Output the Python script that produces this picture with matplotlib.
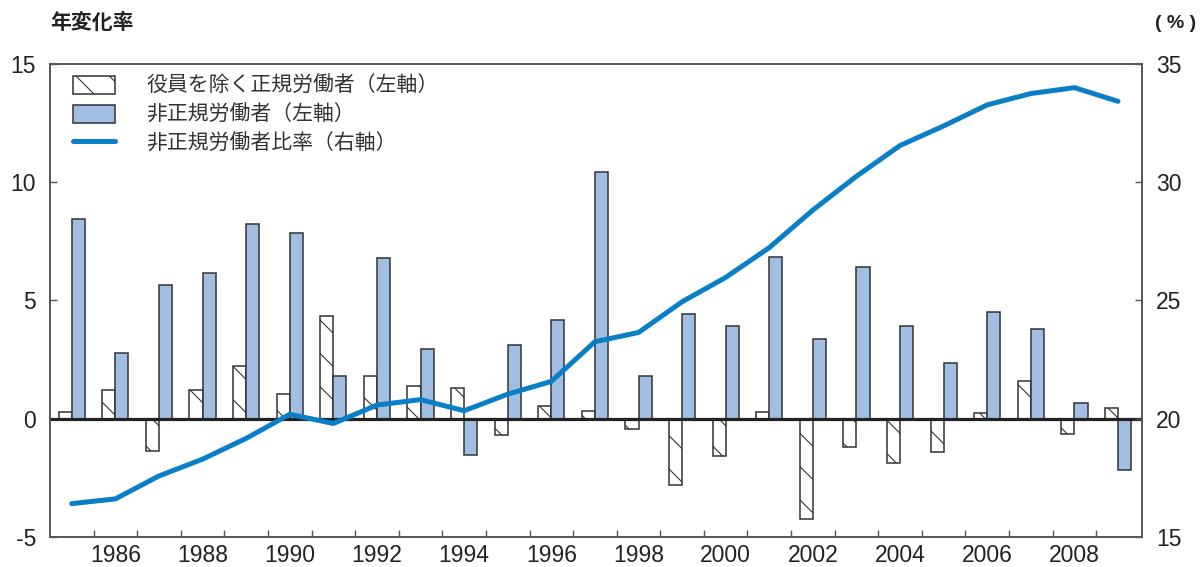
import numpy as np
import matplotlib
matplotlib.use('Agg')
import matplotlib.pyplot as plt

plt.rcParams['font.family'] = ['Liberation Sans', 'Noto Sans CJK JP', 'DejaVu Sans']
plt.rcParams['hatch.linewidth'] = 0.8
plt.rcParams['axes.unicode_minus'] = False

# 年
years = list(range(1985, 2010))
# 役員を除く正規労働者 年変化率（左軸）
regular = [0.29, 1.21, -1.37, 1.21, 2.21, 1.04, 4.34, 1.81, 1.36, 1.30,
           -0.70, 0.54, 0.33, -0.46, -2.80, -1.57, 0.29, -4.25, -1.19, -1.87,
           -1.42, 0.22, 1.60, -0.66, 0.46]
# 非正規労働者 年変化率（左軸）
nonregular = [8.43, 2.77, 5.66, 6.17, 8.21, 7.85, 1.81, 6.81, 2.93, -1.53,
              3.10, 4.18, 10.44, 1.81, 4.42, 3.91, 6.83, 3.38, 6.41, 3.93,
              2.33, 4.52, 3.79, 0.67, -2.18]
# 非正規労働者比率（右軸）
ratio = [16.4, 16.6, 17.57, 18.28, 19.16, 20.18, 19.79, 20.57, 20.8, 20.33,
         21.03, 21.57, 23.25, 23.64, 24.94, 25.97, 27.23, 28.82, 30.25, 31.55,
         32.38, 33.27, 33.75, 34.0, 33.42]

x = np.array(years)
w = 0.3

fig = plt.figure(figsize=(12.01, 5.67), dpi=100)
ax1 = fig.add_axes([50/1201, 1-536.7/567, (1142-50)/1201, (536.7-64)/567])
ax2 = ax1.twinx()

b1 = ax1.bar(x - w/2, regular, width=w, facecolor='white', edgecolor='#333333',
             linewidth=1.1, hatch='\\', label='役員を除く正規労働者（左軸）', zorder=2)
b2 = ax1.bar(x + w/2, nonregular, width=w, facecolor='#a2bfe3', edgecolor='#333333',
             linewidth=1.1, label='非正規労働者（左軸）', zorder=2)
ax1.axhline(0, color='#222222', linewidth=2.3, zorder=3)

l1, = ax2.plot(x, ratio, color='#0a7fc6', linewidth=3.6, solid_capstyle='round',
               label='非正規労働者比率（右軸）', zorder=4)

ax1.set_xlim(1984.5, 2009.55)
ax1.set_ylim(-5, 15)
ax2.set_ylim(15, 35)
ax1.set_yticks([-5, 0, 5, 10, 15])
ax2.set_yticks([15, 20, 25, 30, 35])
ax1.set_xticks(range(1986, 2010, 2))
ax1.set_xticks(np.arange(1985.5, 2009.5, 1), minor=True)
ax1.tick_params(axis='x', which='major', length=0, pad=5, labelsize=16.5, labelcolor='#222222')
ax1.tick_params(axis='x', which='minor', direction='in', length=5, width=1, color='#555555')
ax1.tick_params(axis='y', direction='in', length=5, width=1, color='#555555',
                pad=10, labelsize=16.5, labelcolor='#222222')
ax2.tick_params(axis='y', direction='in', length=5, width=1, color='#555555',
                pad=10, labelsize=16.5, labelcolor='#222222')

for ax in (ax1, ax2):
    for s in ax.spines.values():
        s.set_color('#555555')
        s.set_linewidth(1.2)

ax2.legend(handles=[b1, b2, l1], loc='upper left', bbox_to_anchor=(0.004, 1.014),
           frameon=False, fontsize=15, labelspacing=0.4, handlelength=2.0,
           handleheight=0.95, handletextpad=1.5, labelcolor='#333333')

fig.text(50/1201, 1-23/567, '年変化率', fontsize=15, fontweight='bold',
         ha='left', va='center', color='#222222')
fig.text(1196/1201, 1-23/567, '( % )', fontsize=14, fontweight='bold',
         ha='right', va='center', color='#222222')

fig.savefig('out.png', dpi=100)
